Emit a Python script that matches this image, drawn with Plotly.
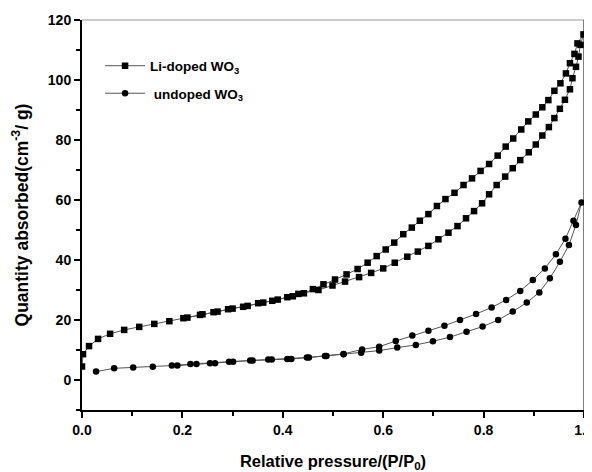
import plotly.graph_objects as go

# Li-doped WO3 : adsorption branch
li_ads_p = [0.0, 0.002, 0.014, 0.032, 0.056, 0.084, 0.114, 0.144, 0.174, 0.202, 0.235, 0.262,
            0.291, 0.321, 0.351, 0.379, 0.409, 0.431, 0.471, 0.499, 0.524, 0.552, 0.576, 0.600,
            0.623, 0.648, 0.669, 0.690, 0.710, 0.730, 0.748, 0.765, 0.781, 0.797, 0.811, 0.826,
            0.843, 0.858, 0.873, 0.890, 0.904, 0.917, 0.930, 0.941, 0.952, 0.962, 0.972, 0.977,
            0.984, 0.989, 0.993, 0.999]
li_ads_q = [4.5, 8.6, 11.3, 13.7, 15.4, 16.7, 17.7, 18.7, 19.6, 20.6, 21.7, 22.6,
            23.6, 24.4, 25.6, 26.4, 27.6, 28.7, 30.0, 31.5, 32.8, 34.3, 35.7, 37.2,
            39.1, 41.1, 42.8, 44.7, 46.9, 49.1, 51.3, 53.9, 56.3, 58.9, 61.9, 65.0,
            67.8, 70.6, 73.3, 75.9, 78.5, 81.5, 84.3, 87.3, 90.4, 93.4, 96.9, 100.6,
            104.4, 107.8, 111.7, 115.2]
# Li-doped WO3 : desorption branch
li_des_p = [0.987, 0.981, 0.972, 0.964, 0.953, 0.941, 0.929, 0.917, 0.904, 0.889, 0.875,
            0.859, 0.844, 0.828, 0.811, 0.794, 0.777, 0.760, 0.742, 0.724, 0.707, 0.690,
            0.673, 0.657, 0.640, 0.622, 0.605, 0.587, 0.569, 0.549, 0.527, 0.504, 0.481,
            0.460, 0.442, 0.420, 0.390, 0.361, 0.330, 0.300, 0.270, 0.240, 0.210]
li_des_q = [112.2, 108.7, 105.6, 102.2, 98.9, 96.4, 93.3, 90.9, 88.5, 86.2, 83.5,
            80.5, 77.8, 74.8, 72.0, 69.7, 67.2, 65.0, 62.4, 60.3, 58.0, 55.3,
            53.1, 50.8, 48.6, 45.8, 43.5, 41.3, 39.1, 37.0, 35.2, 33.5, 31.9,
            30.3, 28.9, 27.9, 26.8, 25.8, 24.7, 23.8, 22.8, 21.9, 20.8]

# undoped WO3 : adsorption branch
un_ads_p = [0.028, 0.064, 0.102, 0.141, 0.179, 0.216, 0.255, 0.293, 0.335, 0.371, 0.409,
            0.448, 0.484, 0.521, 0.556, 0.592, 0.628, 0.665, 0.699, 0.733, 0.766, 0.798,
            0.829, 0.858, 0.886, 0.911, 0.932, 0.952, 0.970, 0.984, 0.995]
un_ads_q = [2.8, 3.9, 4.2, 4.4, 4.8, 5.3, 5.6, 6.1, 6.5, 6.8, 7.0,
            7.5, 8.0, 8.6, 9.1, 9.8, 10.8, 11.7, 12.9, 14.3, 16.1, 17.8,
            20.0, 22.8, 25.8, 29.2, 33.9, 39.4, 45.0, 51.7, 59.2]
# undoped WO3 : desorption branch
un_des_p = [0.979, 0.963, 0.944, 0.922, 0.898, 0.873, 0.845, 0.816, 0.785, 0.753, 0.722,
            0.690, 0.658, 0.625, 0.592, 0.558, 0.521, 0.487, 0.452, 0.417, 0.378, 0.340,
            0.301, 0.265, 0.228, 0.190]
un_des_q = [53.1, 47.1, 41.9, 37.2, 33.3, 29.7, 26.7, 24.2, 22.0, 20.0, 18.1,
            16.4, 14.8, 13.0, 11.1, 10.2, 8.7, 8.0, 7.5, 7.0, 6.8, 6.5,
            6.1, 5.6, 5.3, 4.8]

FONT = "Liberation Sans, Arial, sans-serif"

fig = go.Figure()
fig.add_trace(go.Scatter(
    x=li_ads_p + li_des_p, y=li_ads_q + li_des_q, mode="lines+markers",
    name="<b>Li-doped WO<sub>3</sub></b>", legendgroup="a",
    line=dict(color="#555555", width=1),
    marker=dict(symbol="square", size=6.5, color="black")))
fig.add_trace(go.Scatter(
    x=un_ads_p + un_des_p, y=un_ads_q + un_des_q, mode="lines+markers",
    name="<b> undoped WO<sub>3</sub></b>", legendgroup="b",
    line=dict(color="#555555", width=1),
    marker=dict(symbol="circle", size=6.5, color="black")))

# light top/right frame
fig.add_shape(type="line", xref="paper", yref="paper", x0=0, x1=1, y0=1, y1=1,
              line=dict(color="#999999", width=1), layer="below")
fig.add_shape(type="line", xref="paper", yref="paper", x0=1, x1=1, y0=0, y1=1,
              line=dict(color="#555555", width=1.5), layer="below")

# page body has an 8px margin, so the figure is 8px smaller on each axis
fig.update_layout(
    width=584, height=464,
    margin=dict(l=74, r=8, t=12, b=62, autoexpand=False),
    paper_bgcolor="white", plot_bgcolor="white",
    font=dict(family=FONT, color="black", size=12),
    legend=dict(x=0.036, y=0.922, xanchor="left", yanchor="top",
                bgcolor="rgba(0,0,0,0)", font=dict(size=13.5, family=FONT),
                tracegroupgap=7, itemwidth=40),
    showlegend=True,
)
fig.update_xaxes(
    range=[0, 1], dtick=0.2, tick0=0, tickformat=".1f", automargin=False,
    ticklabeloverflow="allow",
    showline=True, linecolor="black", linewidth=2, mirror=False,
    ticks="outside", ticklen=6, tickwidth=1.5, tickcolor="black",
    minor=dict(dtick=0.1, ticks="outside", ticklen=4, tickcolor="black", tickwidth=1.5),
    showgrid=False, zeroline=False,
    tickfont=dict(size=14, family=FONT, weight="bold"),
    title=dict(text="<b>Relative pressure/(P/P<sub>0</sub>)</b>", font=dict(size=16.5, family=FONT),
               standoff=19),
)
fig.update_yaxes(
    range=[-10, 120], dtick=20, tick0=0, automargin=False,
    ticklabeloverflow="allow",
    showline=True, linecolor="black", linewidth=2, mirror=False,
    ticks="outside", ticklen=6, tickwidth=1.5, tickcolor="black",
    minor=dict(dtick=10, tick0=0, ticks="outside", ticklen=4, tickcolor="black", tickwidth=1.5),
    showgrid=False, zeroline=False,
    tickfont=dict(size=14, family=FONT, weight="bold"),
    title=dict(text="<b>Quantity absorbed(cm<sup>-3</sup>/ g)</b>", font=dict(size=17.5, family=FONT),
               standoff=15),
)

fig.write_html("out.html")
